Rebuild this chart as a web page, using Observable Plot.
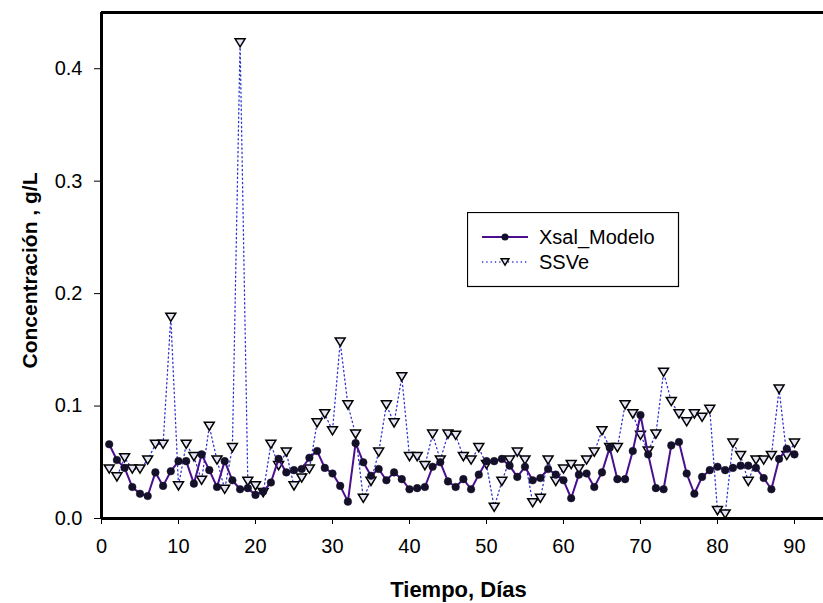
<!DOCTYPE html>
<html><head><meta charset="utf-8">
<script src="https://cdn.jsdelivr.net/npm/d3@7"></script>
<script src="https://cdn.jsdelivr.net/npm/@observablehq/plot@0.6"></script>
<style>
html,body{margin:0;padding:0;background:#fff;}
#wrap{position:relative;width:823px;height:603px;overflow:hidden;font-family:"Liberation Sans",Arial,sans-serif;}
#legend{position:absolute;left:467px;top:212px;}
#wrap svg g[aria-label$="tick label"]{font-size:20px !important;}
</style></head><body><div id="wrap"></div>
<script>
const days = [1,2,3,4,5,6,7,8,9,10,11,12,13,14,15,16,17,18,19,20,21,22,23,24,25,26,27,28,29,30,31,32,33,34,35,36,37,38,39,40,41,42,43,44,45,46,47,48,49,50,51,52,53,54,55,56,57,58,59,60,61,62,63,64,65,66,67,68,69,70,71,72,73,74,75,76,77,78,79,80,81,82,83,84,85,86,87,88,89,90];
const xsalModelo = [0.066,0.052,0.045,0.028,0.022,0.020,0.041,0.029,0.042,0.051,0.051,0.031,0.057,0.043,0.028,0.051,0.034,0.026,0.027,0.021,0.024,0.032,0.053,0.041,0.043,0.044,0.054,0.060,0.045,0.040,0.029,0.015,0.067,0.050,0.038,0.044,0.034,0.041,0.035,0.026,0.027,0.028,0.046,0.050,0.033,0.028,0.035,0.026,0.039,0.051,0.051,0.053,0.047,0.037,0.046,0.034,0.036,0.044,0.039,0.034,0.018,0.039,0.040,0.028,0.041,0.063,0.035,0.035,0.060,0.092,0.057,0.027,0.026,0.065,0.068,0.040,0.022,0.037,0.043,0.046,0.043,0.045,0.047,0.047,0.045,0.036,0.026,0.053,0.062,0.057];
const ssve = [0.044,0.037,0.054,0.044,0.044,0.052,0.066,0.066,0.179,0.029,0.066,0.055,0.034,0.082,0.052,0.026,0.063,0.423,0.033,0.029,0.023,0.066,0.047,0.059,0.029,0.036,0.044,0.085,0.093,0.078,0.157,0.101,0.075,0.018,0.033,0.059,0.101,0.085,0.126,0.055,0.055,0.047,0.075,0.052,0.075,0.074,0.055,0.052,0.063,0.048,0.010,0.033,0.052,0.059,0.052,0.014,0.018,0.052,0.033,0.044,0.048,0.044,0.052,0.059,0.078,0.063,0.063,0.101,0.093,0.074,0.060,0.075,0.130,0.104,0.093,0.086,0.093,0.090,0.097,0.007,0.004,0.067,0.056,0.033,0.052,0.052,0.056,0.115,0.056,0.067];
const seriesNames = ["Xsal_Modelo", "SSVe"];
const xTicks = [0,10,20,30,40,50,60,70,80,90];
const yTicks = [0,0.1,0.2,0.3,0.4];
const xTitle = "Tiempo, Días";
const yTitle = "Concentración , g/L";
const xDomain = [0, 93.77];
const yDomain = [0, 0.45];

const modelData = days.map((d, i) => ({day: d, value: xsalModelo[i]}));
const ssveData = days.map((d, i) => ({day: d, value: ssve[i]}));

const triDown = {draw(ctx, size) {
  const w = Math.sqrt(size); const h = w * 0.82;
  ctx.moveTo(-w/2, -h/2); ctx.lineTo(w/2, -h/2); ctx.lineTo(0, h/2); ctx.closePath();
}};

const lineColor = "#4a0f8f";
const dotColor = "#15102a";
const ssveColor = "#3535d0";
const triFill = "#e4e4f4";
const font = "Liberation Sans, Arial, sans-serif";

const chart = Plot.plot({
  width: 823, height: 603,
  marginLeft: 101, marginRight: 0, marginTop: 12, marginBottom: 85,
  style: {fontFamily: font, fontSize: "20px", color: "#000", background: "#fff"},
  x: {domain: xDomain},
  y: {domain: yDomain},
  marks: [
    Plot.line(ssveData, {x: "day", y: "value", stroke: ssveColor, strokeWidth: 1.3, strokeDasharray: "1.3,3"}),
    Plot.dot(ssveData, {x: "day", y: "value", symbol: triDown, r: 5.6, fill: triFill, stroke: "#000", strokeWidth: 1.5}),
    Plot.line(modelData, {x: "day", y: "value", stroke: lineColor, strokeWidth: 2}),
    Plot.dot(modelData, {x: "day", y: "value", r: 3.8, fill: dotColor, stroke: dotColor, strokeWidth: 0.5}),
    Plot.axisX({ticks: xTicks, tickSize: 6, tickPadding: 14, tickFormat: d => String(d), label: null, fontSize: 20}),
    Plot.axisY({ticks: yTicks, tickSize: 7, tickPadding: 12, tickFormat: d3.format(".1f"), label: null, fontSize: 20}),
    Plot.ruleX([xDomain[0]], {stroke: "#000", strokeWidth: 3}),
    Plot.ruleY([yDomain[0]], {stroke: "#000", strokeWidth: 3}),
    Plot.ruleY([yDomain[1]], {stroke: "#000", strokeWidth: 3}),
    Plot.text([xTitle], {frameAnchor: "bottom", textAnchor: "middle", lineAnchor: "middle", dy: 71, dx: -4, fontWeight: "bold", fontSize: 22, fill: "#000"}),
    Plot.text([yTitle], {frameAnchor: "left", textAnchor: "middle", lineAnchor: "middle", dx: -71, dy: 5, rotate: -90, fontWeight: "bold", fontSize: 21, fill: "#000"})
  ]
});
const wrap = document.getElementById("wrap");
wrap.appendChild(chart);

// legend
const lg = d3.create("svg").attr("id", "legend").attr("width", 213).attr("height", 76)
  .style("font-family", font);
lg.append("rect").attr("x", 0.5).attr("y", 0.5).attr("width", 211).attr("height", 74).attr("fill", "#fff").attr("stroke", "#000").attr("stroke-width", 1.2);
const rows = [{name: seriesNames[0], y: 25}, {name: seriesNames[1], y: 50}];
lg.append("line").attr("x1", 15).attr("x2", 61).attr("y1", rows[0].y).attr("y2", rows[0].y).attr("stroke", lineColor).attr("stroke-width", 2);
lg.append("circle").attr("cx", 38).attr("cy", rows[0].y).attr("r", 3.5).attr("fill", dotColor);
lg.append("line").attr("x1", 15).attr("x2", 61).attr("y1", rows[1].y).attr("y2", rows[1].y).attr("stroke", ssveColor).attr("stroke-width", 1.3).attr("stroke-dasharray", "1.3,3");
lg.append("path").attr("transform", `translate(38,${rows[1].y})`).attr("d", d3.symbol(triDown, 60)()).attr("fill", triFill).attr("stroke", "#000").attr("stroke-width", 1.5);
rows.forEach(r => lg.append("text").attr("x", 72).attr("y", r.y).attr("dy", "0.36em").attr("font-size", 20).text(r.name));
wrap.appendChild(lg.node());
</script></body></html>
